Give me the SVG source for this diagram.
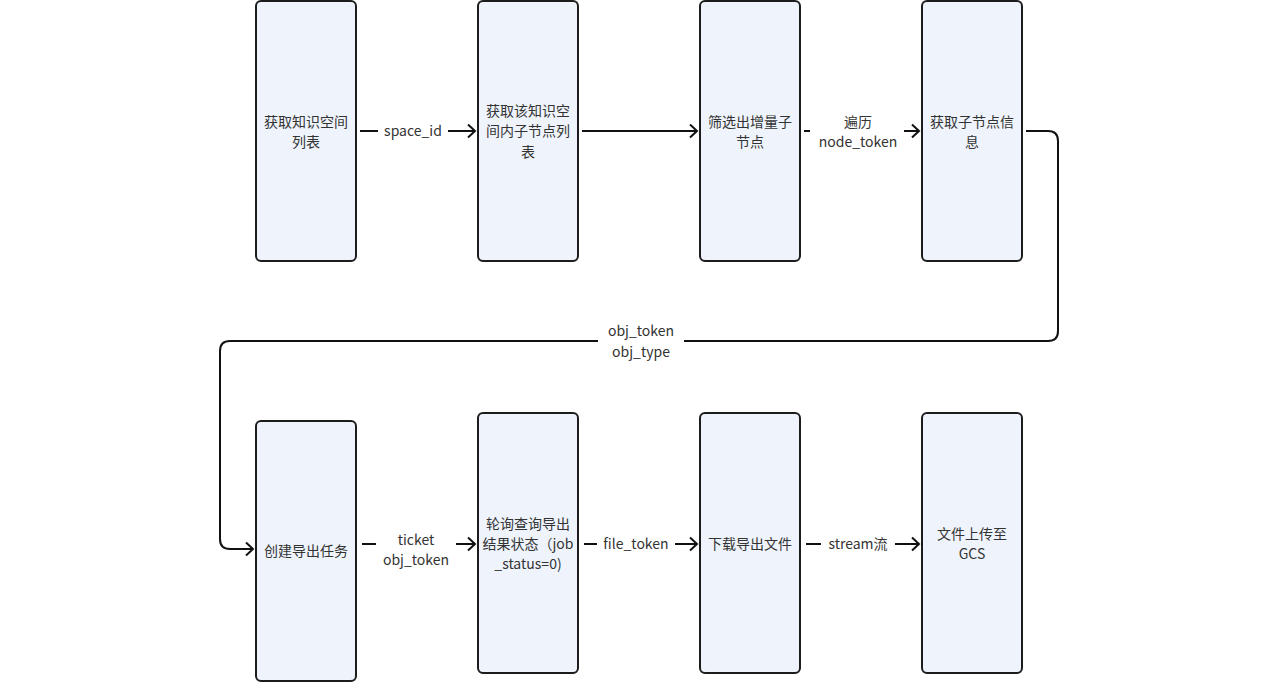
<svg xmlns="http://www.w3.org/2000/svg" width="1280" height="700" viewBox="0 0 1280 700">
<style>
.node rect{fill:#eff3fc;stroke:#1c1c1c;stroke-width:2}
text{font-family:"Noto Sans CJK SC","Noto Sans",sans-serif;font-size:14px;fill:#333;text-anchor:middle}
.edge{fill:none;stroke:#111;stroke-width:2}
.lbl{fill:#fff;stroke:none}
</style>
<defs>
<marker id="arr" markerUnits="userSpaceOnUse" markerWidth="14" markerHeight="16" refX="10" refY="8" orient="auto">
<path d="M3,1.5 L10,8 L3,14.5" fill="none" stroke="#111" stroke-width="2"/>
</marker>
</defs>
<rect width="1280" height="700" fill="#fff"/>
<g id="connectors">
<path class="edge" d="M360,131 H475" marker-end="url(#arr)"/>
<rect class="lbl" x="378" y="120" width="70" height="22"/>
<text x="413" y="136">space_id</text>
<path class="edge" d="M582,131 H697" marker-end="url(#arr)"/>
<path class="edge" d="M804,131 H919" marker-end="url(#arr)"/>
<rect class="lbl" x="810" y="110" width="94" height="44"/>
<text x="858" y="127">遍历</text>
<text x="858" y="147">node_token</text>
<path class="edge" d="M1026,131 H1048 Q1058,131 1058,141 V331 Q1058,341 1048,341 H230 Q220,341 220,351 V539 Q220,549 230,549 H253" marker-end="url(#arr)"/>
<rect class="lbl" x="598" y="320" width="86" height="44"/>
<text x="641" y="336">obj_token</text>
<text x="641" y="357">obj_type</text>
<path class="edge" d="M362,544 H475" marker-end="url(#arr)"/>
<rect class="lbl" x="376" y="526" width="80" height="44"/>
<text x="416" y="545">ticket</text>
<text x="416" y="565">obj_token</text>
<path class="edge" d="M584,544 H697" marker-end="url(#arr)"/>
<rect class="lbl" x="597" y="533" width="78" height="22"/>
<text x="636" y="549">file_token</text>
<path class="edge" d="M806,544 H919" marker-end="url(#arr)"/>
<rect class="lbl" x="821" y="533" width="74" height="22"/>
<text x="858" y="549">stream流</text>
</g>
<g id="n1" class="node"><rect x="256" y="1" width="100" height="260" rx="5"/><text x="306" y="127">获取知识空间</text><text x="306" y="147">列表</text></g>
<g id="n2" class="node"><rect x="478" y="1" width="100" height="260" rx="5"/><text x="528" y="116">获取该知识空</text><text x="528" y="136">间内子节点列</text><text x="528" y="157">表</text></g>
<g id="n3" class="node"><rect x="700" y="1" width="100" height="260" rx="5"/><text x="750" y="127">筛选出增量子</text><text x="750" y="147">节点</text></g>
<g id="n4" class="node"><rect x="922" y="1" width="100" height="260" rx="5"/><text x="972" y="127">获取子节点信</text><text x="972" y="147">息</text></g>
<g id="n5" class="node"><rect x="256" y="421" width="100" height="260" rx="5"/><text x="306" y="556">创建导出任务</text></g>
<g id="n6" class="node"><rect x="478" y="413" width="100" height="260" rx="5"/><text x="528" y="529">轮询查询导出</text><text x="528" y="549">结果状态（job</text><text x="528" y="569">_status=0)</text></g>
<g id="n7" class="node"><rect x="700" y="413" width="100" height="260" rx="5"/><text x="750" y="549">下载导出文件</text></g>
<g id="n8" class="node"><rect x="922" y="413" width="100" height="260" rx="5"/><text x="972" y="539">文件上传至</text><text x="972" y="559">GCS</text></g>
</svg>
